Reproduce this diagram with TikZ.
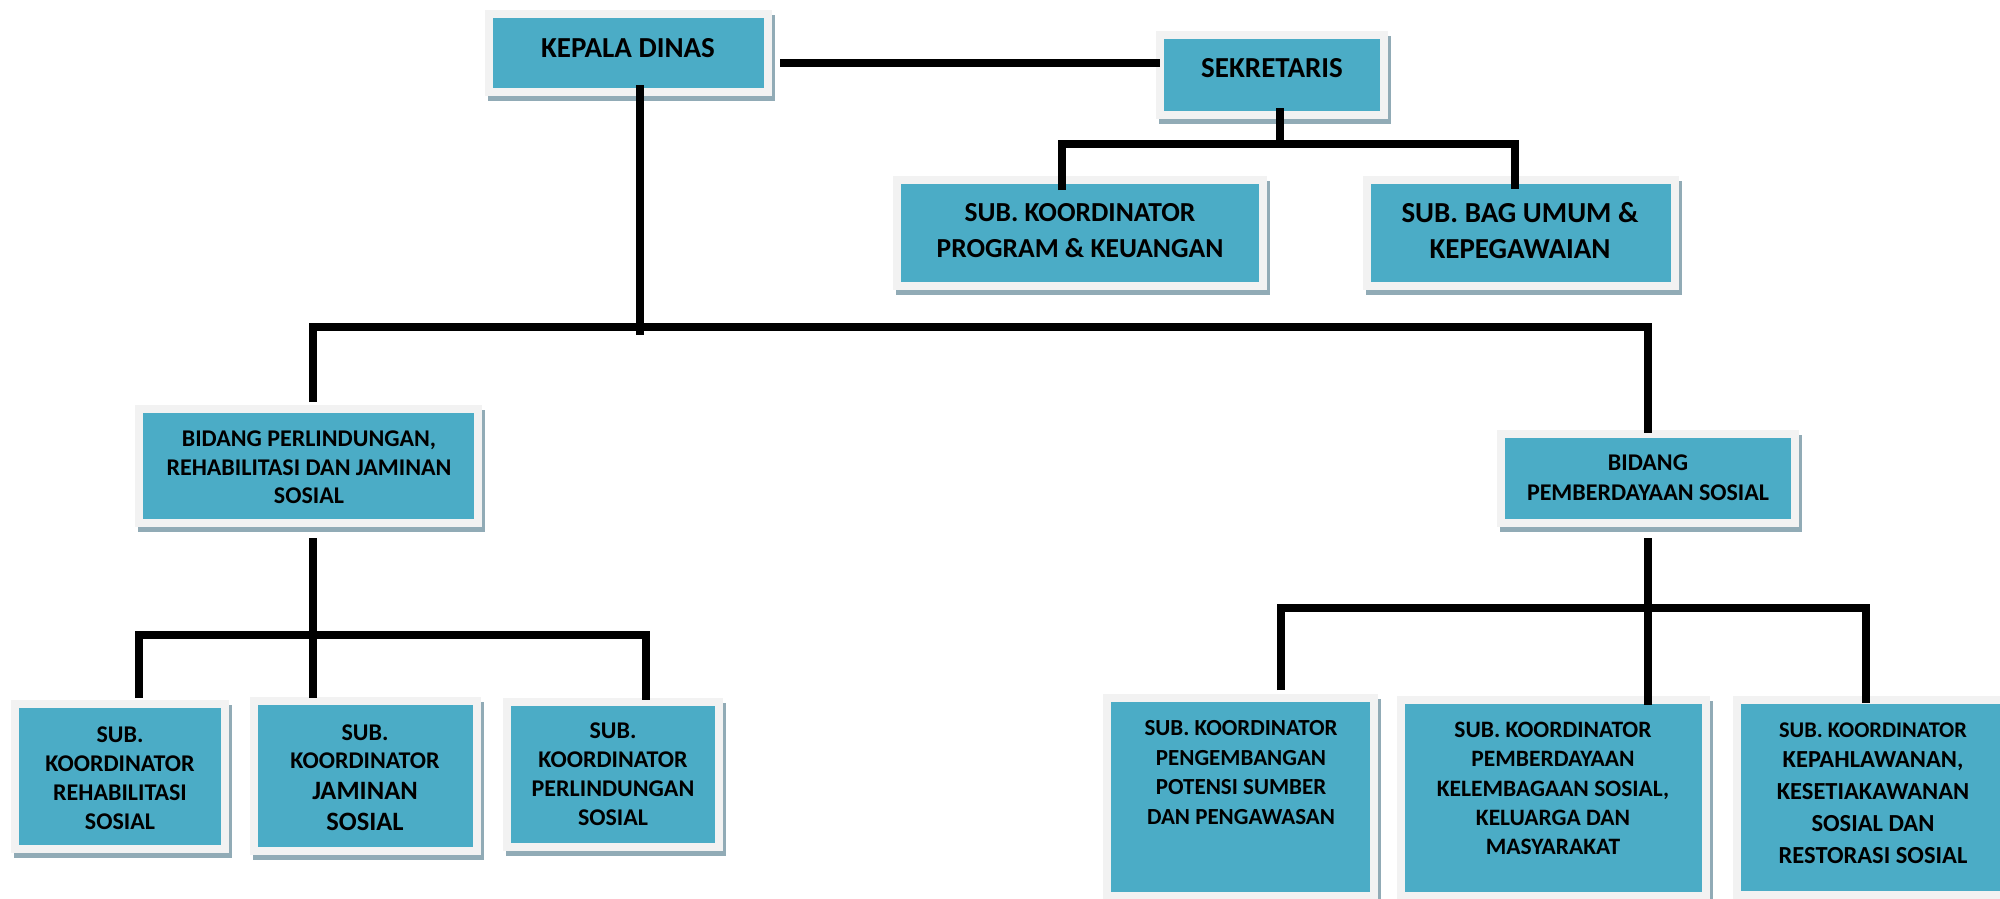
\documentclass[tikz,border=0pt]{standalone}
\usepackage{fontspec}
\setmainfont{Carlito}
\definecolor{tealc}{RGB}{75,172,198}
\definecolor{framec}{RGB}{242,242,242}
\definecolor{shadowc}{RGB}{145,171,182}
\begin{document}
\begin{tikzpicture}[x=1pt,y=-1pt,
  box/.style={fill=tealc, inner sep=0pt, outer sep=0pt,
    preaction={fill=shadowc, draw=shadowc, line width=16pt, transform canvas={shift={(3pt,-5pt)}}},
    preaction={draw=framec, line width=16pt}},
  conn/.style={line width=7.5pt, line join=miter, black},
  txt/.style={align=center, inner sep=0pt, outer sep=0pt}]
\useasboundingbox (0,0) rectangle (2000,899);
\fill[white] (0,0) rectangle (2000,899);

% boxes
\node[box, minimum width=271pt, minimum height=70pt] (kd) at (628.5,53) {};
\node[box, minimum width=216pt, minimum height=72pt] (sek) at (1272,75) {};
\node[box, minimum width=358pt, minimum height=98pt] (skp) at (1080,233) {};
\node[box, minimum width=300pt, minimum height=98pt] (sbu) at (1521,233) {};
\node[box, minimum width=331pt, minimum height=106pt] (bpl) at (308.5,466) {};
\node[box, minimum width=286pt, minimum height=81pt] (bps) at (1648,478.5) {};
\node[box, minimum width=202pt, minimum height=137pt] (s1) at (120,776.5) {};
\node[box, minimum width=215pt, minimum height=142pt] (s2) at (365.5,776) {};
\node[box, minimum width=204pt, minimum height=137pt] (s3) at (613,774.5) {};
\node[box, minimum width=259pt, minimum height=190pt] (s4) at (1240.5,797) {};
\node[box, minimum width=297pt, minimum height=188pt] (s5) at (1553.5,798) {};
\node[box, minimum width=269pt, minimum height=187pt] (s6) at (1875.5,797.5) {};

% junctions
\coordinate (jA) at (640,327);
\coordinate (jS) at (1280,144);
\coordinate (jB) at (313,635);
\coordinate (jC) at (1648,608);

% connectors
\draw[conn] ([shift={(16pt,-10pt)}]kd.east) -- ([shift={(-4pt,12pt)}]sek.west);
\draw[conn] ([shift={(11.5pt,3pt)}]kd.south) -- ([yshift=-8pt]jA);
\draw[conn] ([shift={(4.5pt,11pt)}]bpl.north) |- (jA) -| ([yshift=5pt]bps.north);
\draw[conn] ([shift={(8pt,3pt)}]sek.south) -- (jS);
\draw[conn] ([shift={(-18pt,-6pt)}]skp.north) |- (jS) -| ([shift={(-6pt,-5pt)}]sbu.north);
\draw[conn] ([shift={(4.5pt,-19pt)}]bpl.south) -- ([shift={(-52.5pt,7pt)}]s2.north);
\draw[conn] ([shift={(19pt,10pt)}]s1.north) |- (jB) -| ([shift={(33pt,6pt)}]s3.north);
\draw[conn] ([yshift=-19pt]bps.south) -- ([shift={(94.5pt,-1pt)}]s5.north);
\draw[conn] ([shift={(40.5pt,12pt)}]s4.north) |- (jC) -| ([shift={(-9.5pt,1pt)}]s6.north);

% texts
\node[txt, font=\bfseries\fontsize{29}{35}\selectfont] (kdt) at (628,48) {KEPALA DINAS};
\node[txt, font=\bfseries\fontsize{29}{35}\selectfont] (sekt) at (1272,68) {SEKRETARIS};
\node[txt, font=\bfseries\fontsize{27.5}{36}\selectfont] (skpt) at (1080,231) {SUB. KOORDINATOR\\PROGRAM \& KEUANGAN};
\node[txt, font=\bfseries\fontsize{29}{36}\selectfont] (sbut) at (1520,231) {SUB. BAG UMUM \&\\KEPEGAWAIAN};
\node[txt, font=\bfseries\fontsize{24}{28.5}\selectfont] (bplt) at (309,467.5) {BIDANG PERLINDUNGAN,\\REHABILITASI DAN JAMINAN\\SOSIAL};
\node[txt, font=\bfseries\fontsize{24}{30}\selectfont] (bpst) at (1648,478) {BIDANG\\PEMBERDAYAAN SOSIAL};
\node[txt, font=\bfseries\fontsize{24}{29}\selectfont] (s1t) at (120,778.5) {SUB.\\KOORDINATOR\\REHABILITASI\\SOSIAL};
\node[txt, font=\bfseries\fontsize{24}{28}\selectfont] (s2t) at (365,777.5) {SUB.\\KOORDINATOR\\[3pt]{\fontsize{26.5}{31}\selectfont JAMINAN}\\[3pt]{\fontsize{26.5}{31}\selectfont SOSIAL}};
\node[txt, font=\bfseries\fontsize{24}{29}\selectfont] (s3t) at (613,774.5) {SUB.\\KOORDINATOR\\PERLINDUNGAN\\SOSIAL};
\node[txt, font=\bfseries\fontsize{23}{29.7}\selectfont] (s4t) at (1241,772.5) {SUB. KOORDINATOR\\PENGEMBANGAN\\POTENSI SUMBER\\DAN PENGAWASAN};
\node[txt, font=\bfseries\fontsize{23.5}{29.25}\selectfont] (s5t) at (1553,788.5) {SUB. KOORDINATOR\\PEMBERDAYAAN\\KELEMBAGAAN SOSIAL,\\KELUARGA DAN\\MASYARAKAT};
\node[txt, font=\bfseries\fontsize{24.5}{32}\selectfont] (s6t) at (1873,793.5) {{\fontsize{22.4}{30}\selectfont SUB. KOORDINATOR}\\[-2pt]KEPAHLAWANAN,\\KESETIAKAWANAN\\SOSIAL DAN\\RESTORASI SOSIAL};
\end{tikzpicture}
\end{document}
